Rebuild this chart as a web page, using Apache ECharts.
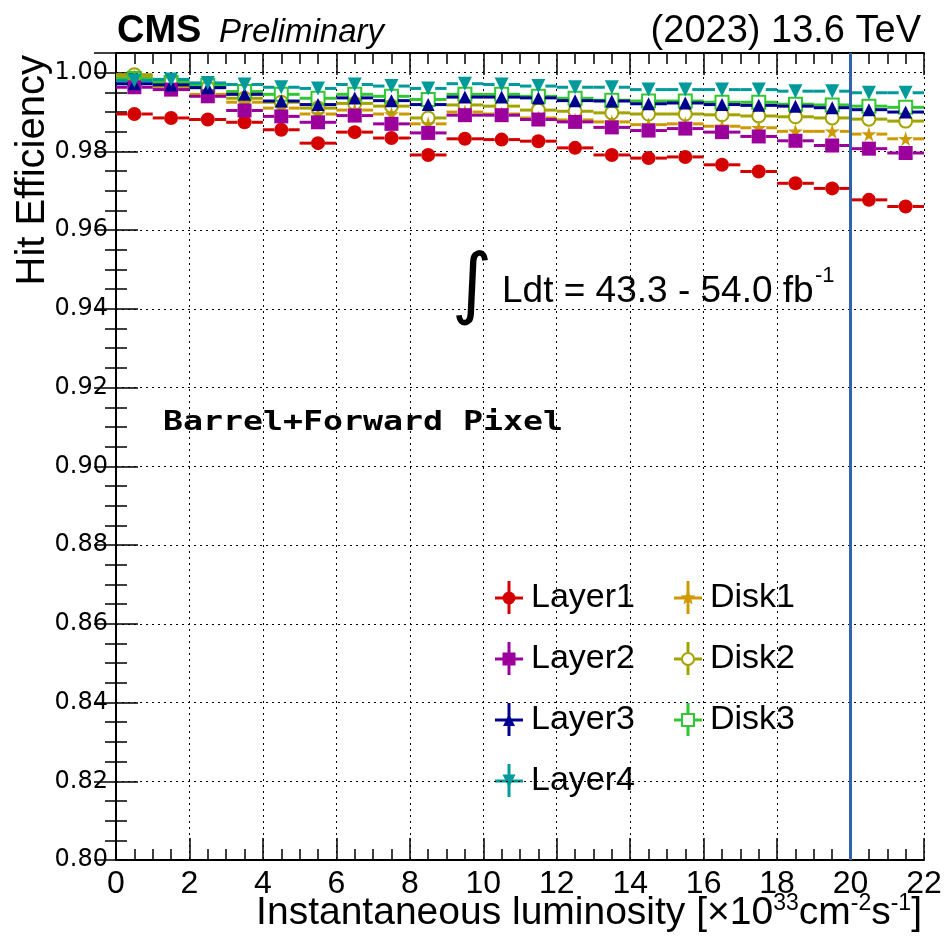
<!DOCTYPE html>
<html>
<head>
<meta charset="utf-8">
<title>Pixel hit efficiency vs instantaneous luminosity</title>
<script src="https://cdn.jsdelivr.net/npm/echarts@6/dist/echarts.min.js"></script>
<style>
  html, body { margin: 0; padding: 0; background: #ffffff; }
  #chart { width: 945px; height: 938px; }
</style>
</head>
<body>
<div id="chart"></div>
<script>
// Luminosity bins (centres, width 1 x 10^33 cm^-2 s^-1)
const binCenters = [0.5, 1.5, 2.5, 3.5, 4.5, 5.5, 6.5, 7.5, 8.5, 9.5, 10.5,
                    11.5, 12.5, 13.5, 14.5, 15.5, 16.5, 17.5, 18.5, 19.5, 20.5, 21.5];
const binHalfWidth = 0.5;

// Hit efficiency per detector layer / disk
const layer1 = [0.9895, 0.9885, 0.9881, 0.9874, 0.9855, 0.9821, 0.9849, 0.9834, 0.9791, 0.9832, 0.9830,
                0.9826, 0.9809, 0.9791, 0.9783, 0.9786, 0.9766, 0.9749, 0.9719, 0.9706, 0.9677, 0.9660];
const layer2 = [0.9963, 0.9957, 0.9940, 0.9904, 0.9889, 0.9874, 0.9891, 0.9870, 0.9847, 0.9892, 0.9892,
                0.9881, 0.9875, 0.9861, 0.9853, 0.9858, 0.9849, 0.9838, 0.9827, 0.9815, 0.9807, 0.9796];
const layer3 = [0.9972, 0.9969, 0.9962, 0.9945, 0.9928, 0.9919, 0.9936, 0.9929, 0.9919, 0.9938, 0.9938,
                0.9936, 0.9929, 0.9928, 0.9921, 0.9923, 0.9919, 0.9917, 0.9915, 0.9911, 0.9906, 0.9900];
const layer4 = [0.9980, 0.9983, 0.9974, 0.9970, 0.9963, 0.9960, 0.9970, 0.9966, 0.9960, 0.9972, 0.9970,
                0.9966, 0.9963, 0.9963, 0.9957, 0.9957, 0.9957, 0.9957, 0.9953, 0.9953, 0.9949, 0.9949];
const disk1  = [0.9990, 0.9962, 0.9945, 0.9925, 0.9910, 0.9895, 0.9905, 0.9895, 0.9870, 0.9900, 0.9895,
                0.9885, 0.9880, 0.9875, 0.9868, 0.9870, 0.9864, 0.9860, 0.9851, 0.9851, 0.9844, 0.9832];
const disk2  = [0.9995, 0.9978, 0.9962, 0.9935, 0.9925, 0.9910, 0.9922, 0.9915, 0.9885, 0.9918, 0.9915,
                0.9905, 0.9902, 0.9898, 0.9895, 0.9895, 0.9893, 0.9890, 0.9888, 0.9885, 0.9882, 0.9877];
const disk3  = [0.9985, 0.9975, 0.9968, 0.9952, 0.9945, 0.9935, 0.9945, 0.9940, 0.9932, 0.9945, 0.9945,
                0.9940, 0.9935, 0.9930, 0.9928, 0.9928, 0.9925, 0.9925, 0.9920, 0.9918, 0.9915, 0.9912];

// Axis tick values
const xTicks = [0, 2, 4, 6, 8, 10, 12, 14, 16, 18, 20, 22];
const yTicks = [0.80, 0.82, 0.84, 0.86, 0.88, 0.90, 0.92, 0.94, 0.96, 0.98, 1.00];
const lumiMarker = 20;

const seriesNames  = ['Layer1', 'Layer2', 'Layer3', 'Layer4', 'Disk1', 'Disk2', 'Disk3'];
const seriesValues = [layer1, layer2, layer3, layer4, disk1, disk2, disk3];
// drawing order: disks underneath, barrel layers on top
const drawOrder = ['Disk1', 'Disk2', 'Disk3', 'Layer1', 'Layer2', 'Layer3', 'Layer4'];

// Marker styles (ROOT-like)
const STAR = 'path://M50,0 L61,35 L98,35 L68,57 L79,91 L50,70 L21,91 L32,57 L2,35 L39,35 Z';
const styles = {
  Layer1: { color: '#d40000', symbol: 'circle',   size: 14, rotate: 0,   open: false },
  Layer2: { color: '#9c009c', symbol: 'rect',     size: 14, rotate: 0,   open: false },
  Layer3: { color: '#00008f', symbol: 'triangle', size: 13, rotate: 0,   open: false },
  Layer4: { color: '#009a9a', symbol: 'triangle', size: 14, rotate: 180, open: false },
  Disk1:  { color: '#cc9a00', symbol: STAR,       size: 15, rotate: 0,   open: false },
  Disk2:  { color: '#a3a300', symbol: 'circle',   size: 13, rotate: 0,   open: true  },
  Disk3:  { color: '#33c633', symbol: 'rect',     size: 13, rotate: 0,   open: true  }
};

const GRID = { left: 116, right: 21, top: 53, bottom: 78 };
const SANS = '"Liberation Sans", Arial, Helvetica, sans-serif';

// Horizontal bin-width bar, interrupted where the marker sits
function makeErrorBar(gap) {
  return function (params, api) {
    const x = api.value(0), y = api.value(1);
    const a = api.coord([x - binHalfWidth, y]);
    const b = api.coord([x + binHalfWidth, y]);
    const c = api.coord([x, y]);
    const style = { stroke: api.visual('color'), lineWidth: 3 };
    return {
      type: 'group',
      children: [
        { type: 'line', shape: { x1: a[0], y1: a[1], x2: c[0] - gap, y2: c[1] }, style: style },
        { type: 'line', shape: { x1: c[0] + gap, y1: c[1], x2: b[0], y2: b[1] }, style: style }
      ]
    };
  };
}

const series = [];
drawOrder.forEach(function (name, i) {
  const st = styles[name];
  const values = seriesValues[seriesNames.indexOf(name)];
  const pts = binCenters.map(function (x, k) { return [x, values[k]]; });
  const bars = {
    name: name,
    type: 'custom',
    renderItem: makeErrorBar(st.size / 2),
    data: pts,
    clip: true,
    itemStyle: { color: st.color },
    z: 3 + i * 2,
    silent: true
  };
  if (i === 0) {
    bars.markLine = {
      silent: true,
      symbol: 'none',
      label: { show: false },
      lineStyle: { color: '#2f63ab', width: 3, type: 'solid' },
      data: [{ xAxis: lumiMarker }],
      z: 30
    };
  }
  series.push(bars);
  series.push({
    name: name,
    type: 'scatter',
    data: pts,
    symbol: st.symbol,
    symbolSize: st.size,
    symbolRotate: st.rotate,
    itemStyle: st.open
      ? { color: 'rgba(255,255,255,0)', borderColor: st.color, borderWidth: 2, opacity: 1 }
      : { color: st.color, opacity: 1 },
    z: 4 + i * 2,
    silent: true
  });
});

// Legend: error-bar cross with marker, two columns
const legendCells = [
  { name: 'Layer1', col: 0, row: 0 }, { name: 'Layer2', col: 0, row: 1 },
  { name: 'Layer3', col: 0, row: 2 }, { name: 'Layer4', col: 0, row: 3 },
  { name: 'Disk1',  col: 1, row: 0 }, { name: 'Disk2',  col: 1, row: 1 },
  { name: 'Disk3',  col: 1, row: 2 }
];
const legendColX = [509, 688];
const legendRowY = [598, 659, 720, 781];

function markerShape(st) {
  const fill = st.open ? '#ffffff' : st.color;
  const stroke = st.color;
  const s = (st.size - 1) / 2;
  if (st.symbol === 'circle') {
    return { type: 'circle', shape: { cx: 0, cy: 0, r: s }, style: { fill: fill, stroke: stroke, lineWidth: st.open ? 2 : 0 } };
  }
  if (st.symbol === 'rect') {
    return { type: 'rect', shape: { x: -s, y: -s, width: 2 * s, height: 2 * s }, style: { fill: fill, stroke: stroke, lineWidth: st.open ? 2 : 0 } };
  }
  if (st.symbol === 'triangle') {
    const pts = st.rotate ? [[-s, -s], [s, -s], [0, s]] : [[-s, s], [s, s], [0, -s]];
    return { type: 'polygon', shape: { points: pts }, style: { fill: fill } };
  }
  // star
  const pts = [];
  for (let k = 0; k < 10; k++) {
    const r = (k % 2 === 0) ? s + 1 : (s + 1) * 0.42;
    const ang = -Math.PI / 2 + k * Math.PI / 5;
    pts.push([r * Math.cos(ang), r * Math.sin(ang)]);
  }
  return { type: 'polygon', shape: { points: pts }, style: { fill: fill } };
}

const legendGraphics = legendCells.map(function (c) {
  const st = styles[c.name];
  const gap = st.open ? st.size / 2 : 0;
  return {
    type: 'group',
    x: legendColX[c.col],
    y: legendRowY[c.row],
    children: [
      { type: 'line', shape: { x1: -14, y1: 0, x2: -gap, y2: 0 }, style: { stroke: st.color, lineWidth: 3 } },
      { type: 'line', shape: { x1: gap, y1: 0, x2: 14, y2: 0 }, style: { stroke: st.color, lineWidth: 3 } },
      { type: 'line', shape: { x1: 0, y1: -17, x2: 0, y2: -gap }, style: { stroke: st.color, lineWidth: 3 } },
      { type: 'line', shape: { x1: 0, y1: gap, x2: 0, y2: 16 }, style: { stroke: st.color, lineWidth: 3 } },
      markerShape(st),
      { type: 'text', x: 22, y: 0, style: { text: c.name, font: '34px ' + SANS, fill: '#000', align: 'left', verticalAlign: 'middle' } }
    ]
  };
});

const textGraphics = [
  { type: 'text', x: 117, y: 32, style: { text: 'CMS', font: 'bold 38px ' + SANS, fill: '#000', align: 'left', verticalAlign: 'middle' } },
  { type: 'text', x: 219, y: 33, style: { text: 'Preliminary', font: 'italic 33px ' + SANS, fill: '#000', align: 'left', verticalAlign: 'middle' } },
  { type: 'text', x: 921, y: 32, style: { text: '(2023) 13.6 TeV', font: '38px ' + SANS, fill: '#000', align: 'right', verticalAlign: 'middle' } },
  { type: 'text', x: 33, y: 55, rotation: Math.PI / 2, style: { text: 'Hit Efficiency', font: '40px ' + SANS, fill: '#000', align: 'right', verticalAlign: 'middle' } },
  { type: 'text', x: 922, y: 913, style: {
      text: 'Instantaneous luminosity [\u00d710{s|33}cm{s|-2}s{s|-1}]',
      align: 'right', verticalAlign: 'middle', font: '39px ' + SANS, fill: '#000',
      rich: { s: { font: '23px ' + SANS, fill: '#000', verticalAlign: 'top', padding: [0, 0, 19, 0] } } } },
  { type: 'text', x: 472, y: 289, style: { text: '\u222b', font: '78px "DejaVu Sans"', fill: '#000', align: 'center', verticalAlign: 'middle' } },
  { type: 'text', x: 502, y: 292, style: { text: 'Ldt = 43.3 - 54.0 fb', font: '37px ' + SANS, fill: '#000', align: 'left', verticalAlign: 'middle' } },
  { type: 'text', x: 815, y: 276, style: { text: '-1', font: '22px ' + SANS, fill: '#000', align: 'left', verticalAlign: 'middle' } },
  { type: 'text', x: 163, y: 423, scaleX: 1.23, style: { text: 'Barrel+Forward Pixel', font: 'bold 27px "DejaVu Sans Mono"', fill: '#000', align: 'left', verticalAlign: 'middle' } }
];

const axisLineStyle = { show: true, lineStyle: { color: '#000', width: 2 } };
const gridLineStyle = { show: true, lineStyle: { color: '#000', width: 1, type: [2, 4] } };

const xBase = {
  type: 'value', min: xTicks[0], max: xTicks[xTicks.length - 1], interval: xTicks[1] - xTicks[0],
  axisLine: axisLineStyle,
  axisTick: { show: true, inside: true, length: 22, lineStyle: { color: '#000', width: 1.5 } },
  minorTick: { show: true, splitNumber: 4, length: 11, lineStyle: { color: '#000', width: 1.5 } }
};
const yBase = {
  type: 'value', min: yTicks[0], max: 1.005, interval: 0.02,
  axisLine: axisLineStyle,
  axisTick: { show: true, inside: true, length: 22, lineStyle: { color: '#000', width: 1.5 } },
  minorTick: { show: true, splitNumber: 4, length: 11, lineStyle: { color: '#000', width: 1.5 } }
};

function onTick(v) {
  return yTicks.some(function (t) { return Math.abs(t - v) < 1e-6; });
}

const option = {
  animation: false,
  backgroundColor: '#ffffff',
  grid: { left: GRID.left, right: GRID.right, top: GRID.top, bottom: GRID.bottom, containLabel: false },
  xAxis: [
    Object.assign({}, xBase, {
      position: 'bottom',
      splitLine: gridLineStyle,
      axisLabel: { show: true, margin: 8, color: '#000', fontSize: 32, fontFamily: SANS,
        formatter: function (v) { return String(v); } }
    }),
    Object.assign({}, xBase, { position: 'top', splitLine: { show: false }, axisLabel: { show: false } })
  ],
  yAxis: [
    Object.assign({}, yBase, {
      position: 'left',
      splitLine: gridLineStyle,
      axisLabel: { show: true, margin: 8, color: '#000', fontSize: 24, fontFamily: '"DejaVu Sans"',
        formatter: function (v) { return onTick(v) ? v.toFixed(2) : ''; } }
    }),
    Object.assign({}, yBase, { position: 'right', splitLine: { show: false }, axisLabel: { show: false } })
  ],
  series: series,
  graphic: textGraphics.concat(legendGraphics)
};

const chart = echarts.init(document.getElementById('chart'), null, { renderer: 'canvas' });
chart.setOption(option);
</script>
</body>
</html>
